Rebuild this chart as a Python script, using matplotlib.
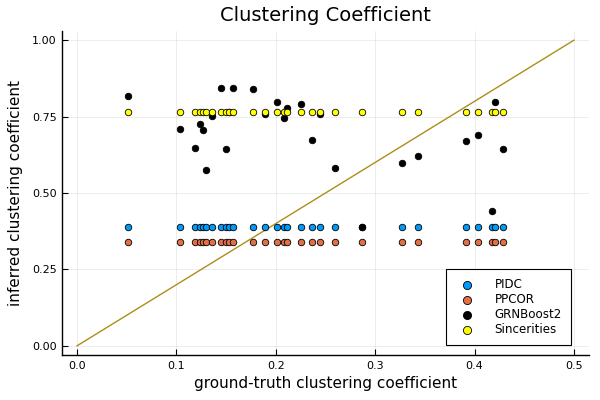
import matplotlib
matplotlib.use("Agg")
import matplotlib.pyplot as plt

# ground-truth clustering coefficient (shared x for all methods)
gt_cc = [0.051, 0.104, 0.119, 0.124, 0.127, 0.130, 0.136, 0.145, 0.150, 0.153,
         0.157, 0.177, 0.189, 0.201, 0.208, 0.211, 0.225, 0.236, 0.244, 0.260,
         0.287, 0.327, 0.343, 0.391, 0.403, 0.418, 0.421, 0.429]

pidc = [0.388] * len(gt_cc)
ppcor = [0.339] * len(gt_cc)
sincerities = [0.766] * len(gt_cc)
grnboost2 = [0.817, 0.710, 0.647, 0.726, 0.705, 0.574, 0.751, 0.845, 0.644, 0.766,
             0.842, 0.841, 0.760, 0.797, 0.747, 0.777, 0.792, 0.674, 0.760, 0.581,
             0.390, 0.597, 0.620, 0.670, 0.690, 0.440, 0.798, 0.643]

diag_x = [0.0, 0.5]
diag_y = [0.0, 1.0]

series_names = ["PIDC", "PPCOR", "GRNBoost2", "Sincerities"]
series_colors = ["#009AFA", "#E36F47", "#000000", "#FFFF00"]

fig = plt.figure(figsize=(6, 4), dpi=100)
ax = fig.add_axes([0.1035, 0.1125, 0.878, 0.81])

ms = 22
for vals, name, col in zip([pidc, ppcor, grnboost2, sincerities], series_names, series_colors):
    ax.scatter(gt_cc, vals, s=ms, color=col, edgecolors="black", linewidths=0.6,
               label=name, zorder=3)

ax.plot(diag_x, diag_y, color="#AC8E18", linewidth=1, zorder=2)

ax.set_xlim(-0.015, 0.515)
ax.set_ylim(-0.03, 1.03)
ax.set_xticks([0.0, 0.1, 0.2, 0.3, 0.4, 0.5])
ax.set_xticklabels(["0.0", "0.1", "0.2", "0.3", "0.4", "0.5"])
ax.set_yticks([0.0, 0.25, 0.5, 0.75, 1.0])
ax.set_yticklabels(["0.00", "0.25", "0.50", "0.75", "1.00"])
ax.tick_params(direction="in", length=4, width=0.8, labelsize=8, colors="black", pad=4)
for side in ["top", "right"]:
    ax.spines[side].set_visible(False)
for side in ["left", "bottom"]:
    ax.spines[side].set_linewidth(1.0)
ax.grid(True, color="black", alpha=0.1, linewidth=0.5)
ax.set_axisbelow(True)

ax.set_title("Clustering Coefficient", fontsize=14, pad=7)
ax.set_xlabel("ground-truth clustering coefficient", fontsize=11, labelpad=4)
ax.set_ylabel("inferred clustering coefficient", fontsize=11, labelpad=6)

leg = ax.legend(loc="lower right", fontsize=8.6, frameon=True, fancybox=False,
                edgecolor="black", framealpha=1, borderpad=0.75, labelspacing=0.18,
                handletextpad=1.3, markerscale=1.25, borderaxespad=0,
                bbox_to_anchor=(0.966, 0.03))
leg.get_frame().set_linewidth(0.8)

fig.savefig("out.png", dpi=100)
